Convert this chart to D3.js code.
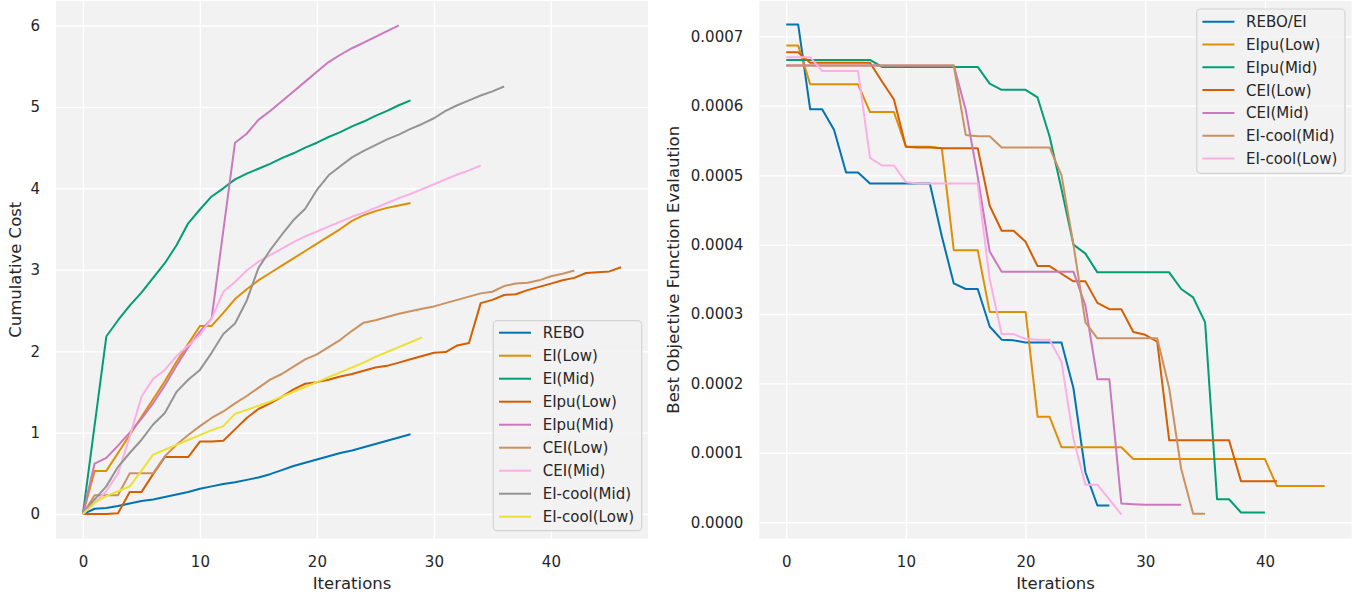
<!DOCTYPE html>
<html><head><meta charset="utf-8">
<script src="https://cdn.jsdelivr.net/npm/d3@7"></script>
<style>
body{margin:0;background:#fff}
text{font-family:"DejaVu Sans",sans-serif;fill:#262626}
</style>
</head><body>
<svg id="c" width="1359" height="594"></svg>
<script>
// ---------- Left panel: Cumulative Cost ----------
const costLabels = ["REBO","EI(Low)","EI(Mid)","EIpu(Low)","EIpu(Mid)","CEI(Low)","CEI(Mid)","EI-cool(Mid)","EI-cool(Low)"];
const costREBO = [0,0.065,0.074,0.10,0.13,0.16,0.18,0.21,0.24,0.27,0.31,0.34,0.37,0.39,0.42,0.45,0.49,0.54,0.59,0.63,0.67,0.71,0.75,0.78,0.82,0.86,0.90,0.94,0.98];
const costEILow = [0,0.53,0.53,0.75,0.97,1.19,1.41,1.63,1.87,2.09,2.31,2.31,2.47,2.64,2.76,2.87,2.96,3.05,3.14,3.23,3.32,3.41,3.50,3.60,3.67,3.72,3.76,3.79,3.82];
const costEIMid = [0,1.09,2.18,2.38,2.56,2.72,2.90,3.08,3.30,3.57,3.74,3.90,4.00,4.11,4.18,4.24,4.30,4.37,4.43,4.50,4.56,4.63,4.69,4.76,4.82,4.89,4.95,5.02,5.08];
const costEIpuLow = [0,0,0,0.01,0.27,0.27,0.49,0.70,0.70,0.70,0.89,0.89,0.90,1.04,1.18,1.29,1.36,1.44,1.53,1.60,1.62,1.65,1.69,1.72,1.76,1.80,1.82,1.86,1.90,1.94,1.98,1.99,2.07,2.10,2.59,2.63,2.69,2.70,2.75,2.79,2.83,2.87,2.90,2.96,2.97,2.98,3.03];
const costEIpuMid = [0,0.62,0.69,0.84,1.00,1.17,1.36,1.58,1.82,2.05,2.24,2.40,3.48,4.56,4.67,4.84,4.95,5.07,5.19,5.31,5.43,5.55,5.64,5.72,5.79,5.86,5.93,6.00];
const costCEILow = [0,0.23,0.23,0.23,0.50,0.50,0.50,0.71,0.85,0.97,1.08,1.18,1.26,1.36,1.45,1.55,1.65,1.72,1.81,1.90,1.96,2.05,2.14,2.25,2.35,2.38,2.42,2.46,2.49,2.52,2.55,2.59,2.63,2.67,2.71,2.73,2.80,2.83,2.84,2.87,2.92,2.95,2.99];
const costCEIMid = [0,0.14,0.28,0.50,0.95,1.44,1.66,1.77,1.94,2.07,2.20,2.40,2.73,2.85,2.99,3.10,3.18,3.26,3.34,3.41,3.47,3.53,3.59,3.65,3.70,3.76,3.82,3.88,3.93,3.99,4.05,4.11,4.17,4.22,4.28];
const costEIcoolMid = [0,0.18,0.34,0.58,0.75,0.91,1.10,1.24,1.50,1.65,1.77,1.98,2.21,2.34,2.62,3.02,3.24,3.43,3.61,3.75,3.98,4.16,4.27,4.38,4.46,4.53,4.60,4.66,4.73,4.79,4.86,4.95,5.02,5.08,5.14,5.19,5.25];
const costEIcoolLow = [0,0.14,0.22,0.28,0.34,0.53,0.73,0.79,0.85,0.91,0.97,1.03,1.08,1.23,1.28,1.33,1.38,1.44,1.50,1.56,1.62,1.68,1.74,1.80,1.86,1.93,1.99,2.05,2.11,2.17];
const costXTicks = [0,10,20,30,40];
const costYTicks = [0,1,2,3,4,5,6];

// ---------- Right panel: Best Objective Function Evaluation ----------
const bestLabels = ["REBO/EI","EIpu(Low)","EIpu(Mid)","CEI(Low)","CEI(Mid)","EI-cool(Mid)","EI-cool(Low)"];
const bestREBOEI = [0.000717,0.000717,0.000595,0.000595,0.000565,0.000504,0.000504,0.000488,0.000488,0.000488,0.000488,0.000488,0.000488,0.000412,0.000344,0.000336,0.000336,0.000282,0.000263,0.000262,0.000259,0.000259,0.000259,0.000259,0.000193,0.000072,0.000024,0.000024];
const bestEIpuLow = [0.000687,0.000687,0.000631,0.000631,0.000631,0.000631,0.000631,0.000591,0.000591,0.000591,0.000541,0.000541,0.000541,0.000539,0.000392,0.000392,0.000392,0.000303,0.000303,0.000303,0.000303,0.000152,0.000152,0.000108,0.000108,0.000108,0.000108,0.000108,0.000108,0.000091,0.000091,0.000091,0.000091,0.000091,0.000091,0.000091,0.000091,0.000091,0.000091,0.000091,0.000091,0.000052,0.000052,0.000052,0.000052,0.000052];
const bestEIpuMid = [0.000666,0.000666,0.000666,0.000666,0.000666,0.000666,0.000666,0.000666,0.000656,0.000656,0.000656,0.000656,0.000656,0.000656,0.000656,0.000656,0.000656,0.000632,0.000623,0.000623,0.000623,0.000612,0.000556,0.000480,0.000400,0.000387,0.000360,0.000360,0.000360,0.000360,0.000360,0.000360,0.000360,0.000336,0.000324,0.000288,0.000033,0.000033,0.000014,0.000014,0.000014];
const bestCEILow = [0.000677,0.000677,0.000662,0.000662,0.000662,0.000662,0.000662,0.000662,0.000635,0.000609,0.000541,0.000540,0.000540,0.000539,0.000539,0.000539,0.000539,0.000456,0.000420,0.000420,0.000404,0.000369,0.000369,0.000358,0.000347,0.000347,0.000316,0.000307,0.000307,0.000274,0.000270,0.000260,0.000118,0.000118,0.000118,0.000118,0.000118,0.000118,0.000059,0.000059,0.000059,0.000059];
const bestCEIMid = [0.000658,0.000658,0.000658,0.000658,0.000658,0.000658,0.000658,0.000658,0.000658,0.000658,0.000658,0.000658,0.000658,0.000658,0.000658,0.000594,0.000498,0.000390,0.000361,0.000361,0.000361,0.000361,0.000361,0.000361,0.000361,0.000312,0.000206,0.000206,0.000027,0.000026,0.000025,0.000025,0.000025,0.000025];
const bestEIcoolMid = [0.000658,0.000658,0.000658,0.000658,0.000658,0.000658,0.000658,0.000658,0.000658,0.000658,0.000658,0.000658,0.000658,0.000658,0.000658,0.000558,0.000556,0.000556,0.000540,0.000540,0.000540,0.000540,0.000540,0.000500,0.000400,0.000288,0.000265,0.000265,0.000265,0.000265,0.000265,0.000265,0.000193,0.000077,0.000012,0.000012];
const bestEIcoolLow = [0.000670,0.000670,0.000670,0.000650,0.000650,0.000650,0.000650,0.000525,0.000514,0.000514,0.000490,0.000488,0.000488,0.000488,0.000488,0.000488,0.000488,0.000350,0.000271,0.000271,0.000264,0.000263,0.000263,0.000231,0.000120,0.000054,0.000054,0.000033,0.000011];
const bestXTicks = [0,10,20,30,40];
const bestYTicks = [0,0.0001,0.0002,0.0003,0.0004,0.0005,0.0006,0.0007];

const palette = ["#0173B2","#DE8F05","#029E73","#D55E00","#CC78BC","#CA9161","#FBAFE4","#949494","#ECE133"];
const costColors = palette.slice(0,9);
const bestColors = ["#0173B2","#DE8F05","#029E73","#D55E00","#CC78BC","#CA9161","#FBAFE4"];

const svg = d3.select("#c");

function panel(cfg){
  const x = d3.scaleLinear().domain(cfg.xDomain).range([cfg.x0,cfg.x1]);
  const y = d3.scaleLinear().domain(cfg.yDomain).range([cfg.y1,cfg.y0]);
  const g = svg.append("g");
  g.append("rect").attr("x",cfg.x0).attr("y",cfg.y0)
    .attr("width",cfg.x1-cfg.x0).attr("height",cfg.y1-cfg.y0).attr("fill","#f2f2f2");
  // x axis with grid
  const xa = g.append("g").attr("transform",`translate(0,${cfg.y1})`)
    .call(d3.axisBottom(x).tickValues(cfg.xTicks).tickSize(-(cfg.y1-cfg.y0)).tickPadding(17.5).tickFormat(d3.format("d")));
  const ya = g.append("g").attr("transform",`translate(${cfg.x0},0)`)
    .call(d3.axisLeft(y).tickValues(cfg.yTicks).tickSize(-(cfg.x1-cfg.x0)).tickPadding(16).tickFormat(cfg.yFormat));
  [xa,ya].forEach(a=>{
    a.select(".domain").remove();
    a.selectAll(".tick line").attr("stroke","#ffffff").attr("stroke-width",1.4);
    a.selectAll(".tick text").attr("font-size",15).attr("font-family","DejaVu Sans").attr("fill","#262626");
  });
  const line = d3.line().x((d,i)=>x(i)).y(d=>y(d));
  cfg.series.forEach((s,k)=>{
    g.append("path").datum(s).attr("d",line).attr("fill","none")
      .attr("stroke",cfg.colors[k]).attr("stroke-width",2).attr("stroke-linejoin","round").attr("stroke-linecap","butt");
  });
  // axis labels
  g.append("text").attr("x",(cfg.x0+cfg.x1)/2).attr("y",589).attr("text-anchor","middle")
    .attr("font-size",16.5).text(cfg.xLabel);
  g.append("text").attr("transform",`translate(${cfg.yLabelX},${(cfg.y0+cfg.y1)/2}) rotate(-90)`)
    .attr("text-anchor","middle").attr("font-size",16.5).text(cfg.yLabel);
  // legend
  const L = cfg.legend;
  const lg = g.append("g");
  lg.append("rect").attr("x",L.x).attr("y",L.y).attr("width",L.w).attr("height",L.h)
    .attr("rx",4).attr("fill","#f2f2f2").attr("fill-opacity",0.85).attr("stroke","#d4d4d4").attr("stroke-width",1.2);
  cfg.labels.forEach((lab,k)=>{
    const yy = L.row0 + k*L.step;
    lg.append("line").attr("x1",L.x+5.7).attr("x2",L.x+37.7).attr("y1",yy).attr("y2",yy)
      .attr("stroke",cfg.colors[k]).attr("stroke-width",2);
    lg.append("text").attr("x",L.x+49.4).attr("y",yy).attr("dy","0.36em").attr("font-size",15).text(lab);
  });
}

panel({
  x0:56, x1:648, y0:1, y1:538.5,
  xDomain:[-2.3,48.3], yDomain:[-0.3,6.3],
  xTicks:costXTicks, yTicks:costYTicks, yFormat:d3.format("d"),
  series:[costREBO,costEILow,costEIMid,costEIpuLow,costEIpuMid,costCEILow,costCEIMid,costEIcoolMid,costEIcoolLow],
  colors:costColors, labels:costLabels,
  xLabel:"Iterations", yLabel:"Cumulative Cost", yLabelX:20.5,
  legend:{x:493.3,y:320.7,w:148.4,h:210,row0:332.7,step:23}
});

panel({
  x0:759.3, x1:1351.7, y0:1, y1:538.5,
  xDomain:[-2.25,47.25], yDomain:[-0.0000235,0.000751],
  xTicks:bestXTicks, yTicks:bestYTicks, yFormat:d3.format(".4f"),
  series:[bestREBOEI,bestEIpuLow,bestEIpuMid,bestCEILow,bestCEIMid,bestEIcoolMid,bestEIcoolLow],
  colors:bestColors, labels:bestLabels,
  xLabel:"Iterations", yLabel:"Best Objective Function Evalaution", yLabelX:679,
  legend:{x:1196.7,y:9,w:148.3,h:164.3,row0:21.7,step:22.8}
});
</script>
</body></html>
